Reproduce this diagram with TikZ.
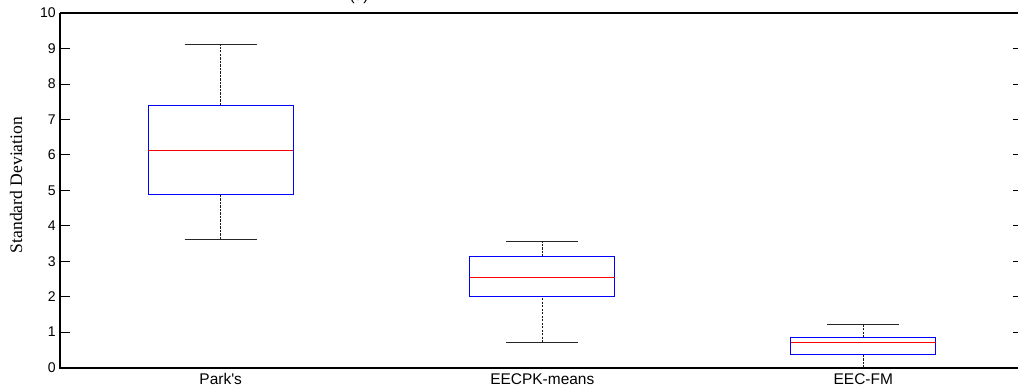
\documentclass[tikz,border=0pt]{standalone}
\usepackage{fontspec}
\setmainfont{Liberation Serif}
\setsansfont{Liberation Sans}
\usepackage{tikz}
\definecolor{boxblue}{rgb}{0, 0, 1}
\definecolor{medianred}{rgb}{1, 0, 0}

\begin{document}
\begin{tikzpicture}[x=0.025cm, y=0.88625cm,
  whisker/.style={black!90, line width=0.7pt, dash pattern=on 1.6pt off 0.9pt},
  whiskercap/.style={black!85, line width=0.7pt},
  quartbox/.style={boxblue, line width=0.8pt},
  medianline/.style={medianred, line width=0.8pt},
  ticklabel/.style={font=\sffamily\fontsize{10}{12}\selectfont, anchor=east, inner sep=0pt},
  catlabel/.style={font=\sffamily\fontsize{11}{13}\selectfont, anchor=base, inner sep=0pt}]

\useasboundingbox (-60,-0.6065) rectangle (958,10.367);

% Title (cut off at the top)
\node[catlabel] (title) at (299,10.367) {(a)};

% Axes
\draw[line width=1.4pt] (0,10) -- (0,0) -- (958,0);
\draw[line width=1.1pt] (0,10) -- (958,10);

% Ticks and tick labels
\foreach \k in {1,...,9} {
  \draw[line width=0.6pt] (0,\k) -- (10,\k);
  \draw[line width=0.6pt] (953,\k) -- (958,\k);
}
\foreach \k in {0,...,10}
  \node[ticklabel] (ytick\k) at (-4,\k) {\k};

% Axis label
\node[rotate=90, font=\fontsize{12.5}{15}\selectfont] (ylabel) at (-44,5.15) {Standard Deviation};

% Park's
\draw[whisker] (160.7,7.40) -- (160.7,9.10);
\draw[whisker] (160.7,3.62) -- (160.7,4.89);
\draw[whiskercap] (124.7,9.10) -- (196.7,9.10);
\draw[whiskercap] (124.7,3.62) -- (196.7,3.62);
\draw[quartbox] (88.2,4.89) rectangle (233.2,7.40);
\draw[medianline] (88.2,6.12) -- (233.2,6.12);

% EECPK-means
\draw[whisker] (482.3,3.13) -- (482.3,3.55);
\draw[whisker] (482.3,0.71) -- (482.3,2.01);
\draw[whiskercap] (446.3,3.55) -- (518.3,3.55);
\draw[whiskercap] (446.3,0.71) -- (518.3,0.71);
\draw[quartbox] (409.8,2.01) rectangle (554.8,3.13);
\draw[medianline] (409.8,2.55) -- (554.8,2.55);

% EEC-FM
\draw[whisker] (803.3,0.85) -- (803.3,1.23);
\draw[whisker] (803.3,0) -- (803.3,0.38);
\draw[whiskercap] (767.3,1.23) -- (839.3,1.23);
\draw[quartbox] (730.8,0.38) rectangle (875.8,0.85);
\draw[medianline] (730.8,0.71) -- (875.8,0.71);

% Group labels
\node[catlabel] (parks) at (160.7,-0.465) {Park\textquotesingle s};
\node[catlabel] (eecpk) at (482.3,-0.465) {EECPK-means};
\node[catlabel] (eecfm) at (803.3,-0.465) {EEC-FM};

\end{tikzpicture}
\end{document}
